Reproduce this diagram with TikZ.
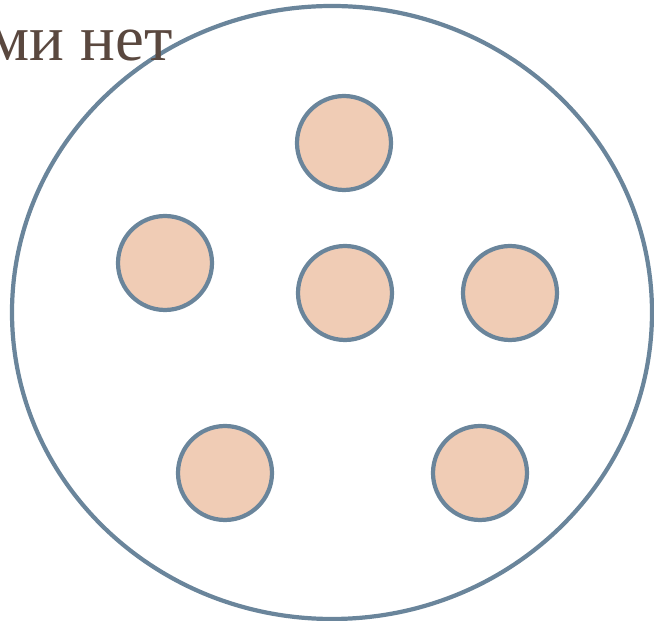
\documentclass[tikz,border=0pt]{standalone}
\usepackage{fontspec}
\setmainfont{Liberation Serif}
\usepackage{tikz}

\definecolor{rimblue}{RGB}{106,133,155}
\definecolor{dropfill}{RGB}{240,204,181}
\definecolor{captbrown}{RGB}{90,72,63}

\begin{document}
\begin{tikzpicture}[x=0.02cm, y=-0.02cm,
    molecule/.style={circle, draw=rimblue, fill=dropfill, line width=2.4pt, minimum size=1.88cm, inner sep=0pt}]
  \useasboundingbox (0,0) rectangle (654,621);
  % vessel
  \draw[rimblue, line width=2.4pt] (332,312.5) ellipse (320 and 306.5);
  % caption (cut off at the left)
  \node[captbrown, anchor=base east, inner sep=0pt, font=\fontsize{37}{44}\selectfont] (capt) at (173,61) {ми нет};
  % molecules
  \foreach \n/\x/\y in {a/344/143, b/165/263, c/345/293, d/510/293, e/225/473, f/480/473}
    { \node[molecule] (m\n) at (\x,\y) {}; }
\end{tikzpicture}
\end{document}
